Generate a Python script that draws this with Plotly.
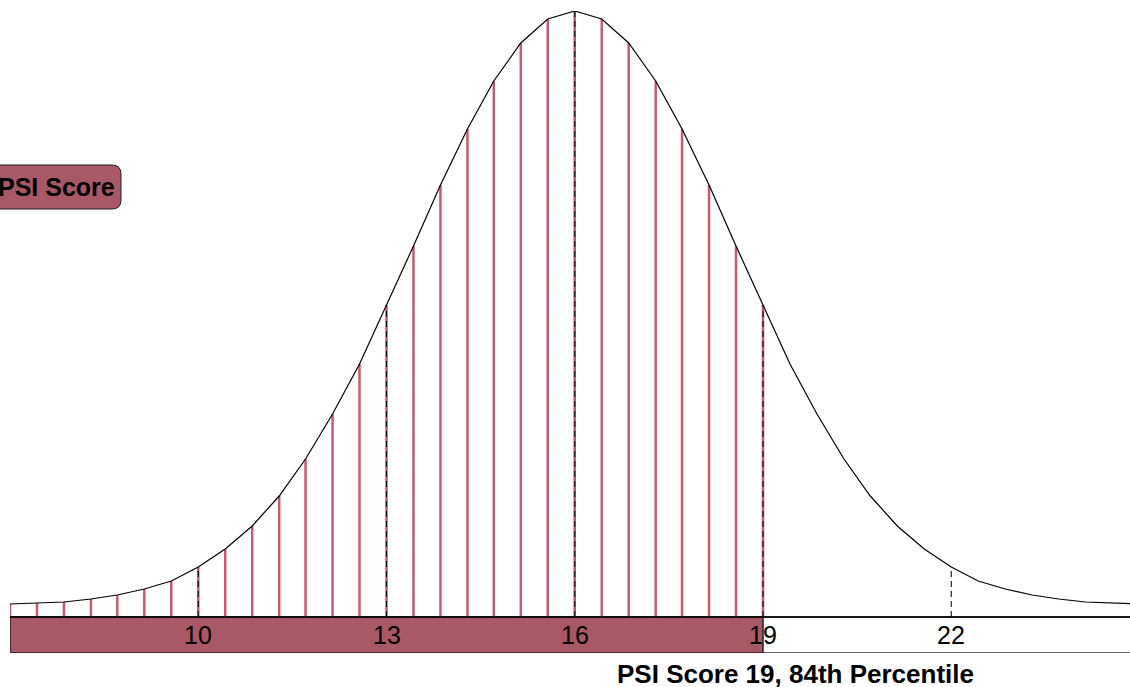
import plotly.graph_objects as go

# PSI score grid (x) and curve height
scores = [7.0, 7.43, 7.86, 8.29, 8.71, 9.14, 9.57, 10.0, 10.43, 10.86, 11.29, 11.71,
          12.14, 12.57, 13.0, 13.43, 13.86, 14.29, 14.71, 15.14, 15.57, 16.0, 16.43,
          16.86, 17.29, 17.71, 18.14, 18.57, 19.0, 19.43, 19.86, 20.29, 20.71, 21.14,
          21.57, 22.0, 22.43, 22.86, 23.29, 23.71, 24.14, 24.57, 25.0]
density = [13, 14, 15, 18, 22, 28, 36, 50, 68, 91, 121, 158, 203, 253, 312, 371, 432,
           488, 536, 574, 598, 606, 598, 574, 536, 488, 432, 371, 312, 253, 203, 158,
           121, 91, 68, 50, 36, 28, 22, 18, 15, 14, 13]
tick_vals = [10, 13, 16, 19, 22]
user_score = 19
percentile = "84th"

RED = "#c65b6e"
BAR = "#a95865"
FONT = "Liberation Sans, Arial, sans-serif"

W, H = 1130, 687
L, T, B = 10, 11, 34
PW, PH = W - L, H - T - B


def px(x, y):
    # pixel -> paper coords
    return (x - L) / PW, (H - B - y) / PH


fig = go.Figure()

# red stems up to the user's score
sx, sy = [], []
for s, d in zip(scores, density):
    if s <= user_score + 1e-6:
        sx += [s, s, None]
        sy += [0, d, None]
fig.add_trace(go.Scatter(x=sx, y=sy, mode="lines", line=dict(color=RED, width=2.5),
                         hoverinfo="skip", showlegend=False))

# dashed markers at the tick scores
dx, dy = [], []
for t in tick_vals:
    h = density[min(range(len(scores)), key=lambda i: abs(scores[i] - t))]
    dx += [t, t, None]
    dy += [0, h, None]
fig.add_trace(go.Scatter(x=dx, y=dy, mode="lines",
                         line=dict(color="black", width=1, dash="6px,4px"),
                         hoverinfo="skip", showlegend=False))

# the curve
fig.add_trace(go.Scatter(x=scores, y=density, mode="lines", line=dict(color="black", width=1.2),
                         cliponaxis=False, hoverinfo="skip", showlegend=False))

shapes = [
    dict(type="rect", xref="x", yref="y", x0=7, x1=26, y0=-36, y1=0,
         line=dict(color="#333", width=1.5), fillcolor="white", layer="below"),
    dict(type="rect", xref="x", yref="y", x0=7, x1=user_score, y0=-36, y1=0,
         line=dict(color="#222", width=1.5), fillcolor=BAR, layer="below"),
    dict(type="line", xref="x", yref="y", x0=7, x1=26, y0=0, y1=0,
         line=dict(color="black", width=1.5)),
]

# rounded label box on the left
x0, x1, y0, y1, r = -20, 121, 165, 209, 9
pts = [(x0 + r, y0), (x1 - r, y0), (x1, y0), (x1, y0 + r), (x1, y1 - r), (x1, y1),
       (x1 - r, y1), (x0 + r, y1), (x0, y1), (x0, y1 - r), (x0, y0 + r), (x0, y0), (x0 + r, y0)]
p = [px(*q) for q in pts]
path = "M {0[0]},{0[1]} L {1[0]},{1[1]} Q {2[0]},{2[1]} {3[0]},{3[1]} L {4[0]},{4[1]} " \
       "Q {5[0]},{5[1]} {6[0]},{6[1]} L {7[0]},{7[1]} Q {8[0]},{8[1]} {9[0]},{9[1]} " \
       "L {10[0]},{10[1]} Q {11[0]},{11[1]} {12[0]},{12[1]} Z".format(*p)
shapes.append(dict(type="path", xref="paper", yref="paper", path=path,
                   fillcolor=BAR, line=dict(color="#222", width=1)))

annotations = []
for t in tick_vals:
    annotations.append(dict(x=t, y=-18, xref="x", yref="y", text=str(t), showarrow=False,
                            font=dict(family=FONT, size=25, color="black"),
                            xanchor="center", yanchor="middle"))

lx, ly = px(56, 187)
annotations.append(dict(x=lx, y=ly, xref="paper", yref="paper", text="<b>PSI Score</b>",
                        showarrow=False, font=dict(family=FONT, size=25, color="black"),
                        xanchor="center", yanchor="middle"))

tx, ty = px(795, 674)
annotations.append(dict(x=tx, y=ty, xref="paper", yref="paper",
                        text=f"<b>PSI Score {user_score}, {percentile} Percentile</b>",
                        showarrow=False, font=dict(family=FONT, size=26, color="black"),
                        xanchor="center", yanchor="middle"))

fig.update_layout(
    width=W, height=H,
    margin=dict(l=L, r=0, t=T, b=B),
    paper_bgcolor="white", plot_bgcolor="white",
    xaxis=dict(range=[7, 7 + PW / 62.75], visible=False, fixedrange=True),
    yaxis=dict(range=[-36, 606], visible=False, fixedrange=True),
    shapes=shapes, annotations=annotations,
    showlegend=False,
)

# drop the page's default body margin so the chart sits at the window corner
fig.write_html("out.html", config={"displayModeBar": False},
               post_script="document.body.style.margin='0';")
